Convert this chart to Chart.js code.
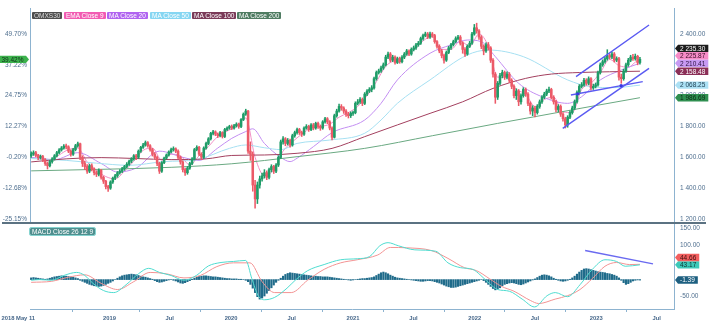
<!DOCTYPE html>
<html><head><meta charset="utf-8">
<script src="https://cdn.jsdelivr.net/npm/chart.js@4.4.0/dist/chart.umd.min.js"></script>
<style>
html,body{margin:0;padding:0;background:#fff;}
#wrap{position:relative;width:715px;height:330px;overflow:hidden;font-family:"Liberation Sans",Arial,sans-serif;}
#main{position:absolute;left:0;top:0;}
#macd{position:absolute;left:0;top:222px;}
.lg{position:absolute;top:11.5px;height:7px;line-height:7px;font-size:6.5px;padding:0 2px;color:#fff;white-space:nowrap;border-radius:1px;}
</style></head><body>
<div id="wrap">
<canvas id="main" width="715" height="222"></canvas>
<canvas id="macd" width="715" height="108"></canvas>
<div class="lg" style="left:32px;background:#4e4e4e;color:#ddd">OMXS30</div>
<div class="lg" style="left:64px;background:#f25bb2">EMA Close 9</div>
<div class="lg" style="left:107px;background:#b064f0">MA Close 20</div>
<div class="lg" style="left:150px;background:#86d6f2">MA Close 50</div>
<div class="lg" style="left:192px;background:#7a3a58">MA Close 100</div>
<div class="lg" style="left:237px;background:#4f7c62">MA Close 200</div>
<div class="lg" style="left:30px;top:227.5px;background:#4f8f8f;outline:1px solid #86d4d0">MACD Close 26 12 9</div>
</div>
<script>
// ---------- DATA (weekly, index 0 = 2018 May 11) ----------
const opens = [
1610,1622,1630,1612,1598,1605,1585,1560,1545,1572,
1590,1610,1630,1648,1660,1672,1668,1640,1620,1650,
1675,1688,1600,1560,1540,1510,1545,1525,1500,1490,
1515,1470,1445,1410,1400,1440,1465,1480,1500,1510,
1525,1540,1555,1575,1590,1610,1600,1640,1665,1680,
1695,1675,1650,1620,1600,1560,1510,1565,1595,1615,
1635,1650,1655,1640,1600,1570,1520,1500,1530,1560,
1590,1650,1665,1620,1600,1660,1690,1720,1755,1765,
1750,1740,1760,1735,1780,1790,1800,1790,1805,1815,
1800,1845,1880,1900,1640,1620,1420,1330,1420,1460,
1480,1500,1470,1520,1540,1510,1550,1600,1700,1720,
1690,1710,1680,1740,1760,1780,1760,1750,1790,1800,
1780,1810,1790,1820,1800,1790,1830,1850,1830,1790,
1730,1870,1900,1930,1920,1900,1880,1870,1885,1890,
1950,1960,1975,1950,2010,2030,2040,2050,2110,2150,
2160,2180,2200,2250,2270,2230,2250,2215,2240,2220,
2250,2270,2290,2270,2300,2310,2330,2340,2370,2390,
2400,2380,2400,2390,2350,2320,2290,2260,2230,2280,
2310,2330,2350,2370,2380,2340,2300,2270,2320,2340,
2400,2440,2420,2380,2320,2290,2330,2310,2230,2140,
1990,2080,2130,2150,2120,2140,2100,2060,2000,2030,
1960,2000,2040,2010,1950,1900,1920,1890,1930,1960,
1990,2010,2030,2040,1990,1960,1910,1930,1880,1850,
1810,1860,1890,1920,1960,2020,2060,2070,2100,2080,
2110,2050,2060,2070,2150,2200,2220,2240,2260,2250,
2270,2230,2240,2120,2110,2160,2200,2230,2250,2240,
2255,2215];
const highs = [
1635,1642,1638,1620,1615,1612,1592,1570,1580,1598,
1618,1638,1656,1670,1682,1685,1675,1648,1658,1684,
1698,1692,1610,1575,1552,1556,1558,1532,1512,1525,
1522,1478,1450,1418,1448,1472,1490,1508,1520,1535,
1548,1565,1582,1598,1618,1620,1648,1672,1690,1706,
1702,1682,1658,1630,1608,1568,1572,1602,1622,1642,
1660,1668,1662,1648,1608,1578,1530,1540,1568,1598,
1658,1675,1672,1630,1668,1698,1728,1762,1775,1772,
1758,1768,1766,1788,1798,1808,1810,1814,1824,1822,
1852,1888,1912,1905,1700,1635,1450,1440,1478,1498,
1520,1512,1530,1552,1548,1560,1610,1712,1735,1728,
1722,1718,1750,1770,1790,1788,1770,1798,1812,1808,
1818,1820,1828,1828,1810,1838,1860,1858,1838,1798,
1880,1912,1945,1942,1928,1910,1892,1895,1900,1960,
1975,1988,1985,2020,2040,2052,2065,2120,2160,2172,
2192,2212,2262,2282,2280,2262,2258,2250,2250,2260,
2280,2300,2298,2310,2322,2340,2352,2380,2400,2412,
2410,2412,2410,2398,2358,2330,2300,2270,2290,2320,
2340,2360,2382,2392,2390,2350,2312,2330,2352,2410,
2462,2470,2428,2390,2330,2342,2345,2318,2240,2150,
2092,2145,2165,2160,2155,2150,2110,2070,2045,2040,
2012,2052,2050,2020,1960,1935,1930,1942,1972,2000,
2022,2042,2055,2048,2000,1970,1942,1940,1890,1860,
1870,1902,1932,1972,2032,2072,2085,2112,2110,2122,
2118,2075,2082,2160,2212,2232,2252,2298,2272,2282,
2280,2252,2248,2140,2172,2212,2242,2262,2268,2270,
2262,2248];
const lows = [
1600,1612,1602,1585,1588,1572,1548,1524,1538,1562,
1582,1602,1622,1640,1652,1655,1630,1608,1612,1642,
1665,1585,1540,1520,1495,1500,1512,1485,1475,1480,
1458,1430,1395,1378,1392,1430,1455,1470,1490,1500,
1515,1532,1548,1565,1582,1585,1592,1632,1658,1672,
1665,1640,1608,1588,1545,1495,1502,1558,1588,1608,
1628,1640,1630,1590,1555,1505,1482,1490,1522,1552,
1582,1642,1610,1585,1592,1652,1682,1712,1745,1740,
1728,1732,1725,1728,1772,1782,1780,1782,1796,1788,
1792,1838,1872,1625,1580,1380,1270,1300,1400,1445,
1465,1455,1460,1505,1495,1500,1540,1592,1685,1675,
1680,1665,1672,1730,1750,1748,1735,1742,1782,1768,
1772,1778,1782,1788,1775,1782,1822,1818,1778,1712,
1725,1860,1892,1905,1885,1865,1855,1858,1872,1882,
1940,1950,1935,1942,2000,2020,2025,2042,2100,2140,
2150,2170,2192,2240,2218,2220,2205,2208,2210,2212,
2240,2262,2260,2262,2290,2300,2320,2332,2360,2382,
2370,2372,2378,2340,2308,2278,2245,2210,2222,2272,
2300,2322,2342,2362,2328,2275,2255,2262,2312,2332,
2392,2405,2365,2305,2265,2280,2295,2215,2120,1950,
1975,2070,2115,2105,2108,2085,2045,1985,1975,1935,
1945,1990,1995,1935,1880,1870,1862,1880,1918,1950,
1980,2000,2020,1978,1945,1895,1895,1865,1835,1790,
1795,1850,1880,1910,1952,2010,2050,2062,2068,2070,
2035,2040,2050,2062,2140,2190,2210,2230,2238,2240,
2218,2220,2100,2080,2100,2150,2190,2220,2228,2230,
2200,2205];
const closes = [
1622,1630,1612,1598,1605,1585,1560,1545,1572,1590,
1610,1630,1648,1660,1672,1668,1640,1620,1650,1675,
1688,1600,1560,1540,1510,1545,1525,1500,1490,1515,
1470,1445,1410,1400,1440,1465,1480,1500,1510,1525,
1540,1555,1575,1590,1610,1600,1640,1665,1680,1695,
1675,1650,1620,1600,1560,1510,1565,1595,1615,1635,
1650,1655,1640,1600,1570,1520,1500,1530,1560,1590,
1650,1665,1620,1600,1660,1690,1720,1755,1765,1750,
1740,1760,1735,1780,1790,1800,1790,1805,1815,1800,
1845,1880,1900,1640,1620,1420,1330,1420,1460,1480,
1500,1470,1520,1540,1510,1550,1600,1700,1720,1690,
1710,1680,1740,1760,1780,1760,1750,1790,1800,1780,
1810,1790,1820,1800,1790,1830,1850,1830,1790,1730,
1870,1900,1930,1920,1900,1880,1870,1885,1890,1950,
1960,1975,1950,2010,2030,2040,2050,2110,2150,2160,
2180,2200,2250,2270,2230,2250,2215,2240,2220,2250,
2270,2290,2270,2300,2310,2330,2340,2370,2390,2400,
2380,2400,2390,2350,2320,2290,2260,2230,2280,2310,
2330,2350,2370,2380,2340,2300,2270,2320,2340,2400,
2440,2420,2380,2320,2290,2330,2310,2230,2140,1990,
2080,2130,2150,2120,2140,2100,2060,2000,2030,1960,
2000,2040,2010,1950,1900,1920,1890,1930,1960,1990,
2010,2030,2040,1990,1960,1910,1930,1880,1850,1810,
1860,1890,1920,1960,2020,2060,2070,2100,2080,2110,
2050,2060,2070,2150,2200,2220,2240,2260,2250,2270,
2230,2240,2120,2110,2160,2200,2230,2250,2240,2255,
2215,2235.30];

// moving averages: [week index, value]
const ema9 = [[0,1625],[4,1610],[8,1575],[12,1615],[16,1650],[20,1660],[24,1570],[28,1515],[32,1475],[36,1460],[40,1510],[44,1575],[48,1645],[52,1660],[56,1580],[60,1620],[64,1610],[68,1550],[72,1610],[76,1670],[80,1735],[84,1770],[88,1800],[92,1855],[96,1600],[100,1480],[104,1520],[108,1640],[112,1700],[116,1750],[120,1790],[124,1800],[128,1815],[132,1860],[136,1890],[140,1930],[144,2000],[148,2090],[152,2190],[156,2230],[160,2250],[164,2295],[168,2355],[172,2385],[176,2300],[180,2300],[184,2355],[188,2320],[192,2400],[196,2320],[200,2120],[204,2120],[208,2040],[212,2010],[216,1930],[220,1975],[224,1990],[228,1895],[232,1890],[236,2040],[240,2080],[244,2150],[248,2235],[252,2195],[256,2185],[260,2225],[261,2225.87]];
const ma20 = [[0,1600],[10,1585],[20,1630],[30,1560],[37,1505],[45,1530],[55,1640],[65,1600],[72,1580],[80,1660],[86,1723],[92,1767],[95,1785],[100,1690],[107,1600],[111,1572],[114,1594],[121,1669],[129,1760],[143,1842],[150,1950],[157,2102],[171,2275],[180,2329],[187,2361],[193,2350],[199,2253],[209,2080],[219,1993],[230,1950],[236,1993],[244,2102],[253,2166],[261,2210.41]];
const ma50 = [[0,1592],[15,1580],[28,1562],[42,1548],[57,1572],[71,1585],[85,1658],[92,1680],[100,1662],[107,1650],[114,1690],[128,1712],[143,1756],[150,1842],[157,1950],[171,2102],[187,2264],[196,2296],[211,2253],[230,2102],[240,2058],[250,2052],[261,2068.25]];
const ma100 = [[0,1570],[15,1590],[30,1598],[45,1592],[60,1585],[75,1590],[86,1612],[100,1615],[114,1626],[129,1658],[143,1734],[157,1810],[171,1885],[185,1960],[198,2047],[212,2112],[223,2140],[235,2150],[248,2155],[261,2158.48]];
const ma200 = [[0,1512],[30,1522],[60,1535],[86,1558],[114,1604],[143,1658],[172,1740],[200,1820],[219,1872],[240,1930],[261,1986.69]];

// drawn trend lines
const trendUpper = [[233.6,2123],[264.9,2458]];
const trendLower = [[227.9,1788],[264.9,2177]];
const trendMid = [[231.4,2004],[262.2,2091]];
const touchPts = [[234.3,2011],[252.9,2065]];

// MACD panel
const macdLine = [[0,-2],[3.5,0],[8.8,-2],[14,12],[19.5,21],[23,12],[26.5,-11],[31,-32],[35.4,-38],[40.7,-15],[46,17],[50.4,33],[55,21],[60,12],[65.5,-2],[70.8,12],[76,40],[81.4,50],[86.7,53],[92,56],[94.6,3],[97.3,-47],[100,-59],[104.4,-52],[109.7,-25],[113.2,-2],[118.5,26],[125.6,44],[132.7,58],[139.8,61],[145,67],[149.5,99],[153,108],[157.4,99],[164.5,87],[173.4,83],[178.7,49],[184,35],[189.3,30],[192.8,12],[196.4,-11],[200,-29],[205,-34],[210.5,-57],[215.8,-80],[221.2,-47],[224.7,-38],[230,-50],[235.3,-15],[240.6,30],[246,58],[251,53],[254.7,39],[261,43.17]];
const signalLine = [[0,-8],[8.8,-5],[16,7],[23,14],[30,-11],[37,-29],[44,-6],[51,21],[58,17],[65.5,5],[72.5,12],[79.6,38],[86.7,49],[93.8,49],[99,-6],[104.4,-38],[111.5,-38],[118.5,-2],[125.6,30],[132.7,49],[139.8,58],[148.6,72],[154,94],[161,93],[171.6,85],[178.7,62],[185.7,35],[191,26],[196.4,3],[201.7,-20],[207,-34],[214,-61],[217.6,-70],[224.7,-57],[230,-47],[235.3,-29],[240.6,3],[246,39],[251,50],[256.5,44],[261,44.66]];
const histogram = [
5,6,5,4,3,2,1,
2,4,6,8,9,10,11,10,10,9,8,7,5,3,
-2,-5,-8,-11,-14,-16,-18,-19,-20,-19,-17,-14,-11,-8,
-4,0,4,8,11,13,14,15,16,15,14,12,10,8,7,5,3,1,
-3,-6,-8,-7,-5,
-3,-1,0,-2,-4,-7,-10,-11,-9,-6,-3,
1,4,7,9,10,11,11,10,9,8,8,7,6,5,4,
3,3,2,2,2,1,1,0,-2,-6,
-14,-25,-38,-50,-57,-54,-48,-40,-32,-24,
-16,-8,-2,4,10,
15,18,20,19,18,17,16,15,14,13,12,11,10,10,9,9,8,8,
8,7,6,5,4,3,2,1,0,-1,-2,-1,0,1,2,3,3,4,5,6,
8,12,16,20,22,20,17,13,10,7,5,4,3,2,
1,0,-1,-2,-3,-4,-5,-5,-4,-3,-3,-4,-6,-8,-10,
-13,-16,-19,-21,-23,-23,-22,-20,-18,-16,-14,-12,-10,-8,-6,-4,-2,0,
-3,-8,-14,-20,-26,-30,-28,-24,
-18,-14,-12,-10,-9,-10,-12,-14,-15,-13,-10,-7,
-4,-1,2,6,10,13,14,13,11,8,4,
1,-2,-4,-5,-4,-2,1,5,
10,16,22,27,31,32,31,29,27,25,23,22,21,20,18,17,
15,13,10,5,-2,-9,-14,-12,-8,-4,-2,-1,-1.39];
const macdTrend = [[237.5,85],[266.6,46]];

// axes
const priceTicks = [1200,1400,1600,1800,2000,2200,2400];
const pctLabels = ['-25.15%','-12.68%','-0.20%','12.27%','24.75%','37.22%','49.70%'];
const pctBase = 1603.3;
const macdTicks = [-50,100,150];
const xTickPos = [2.1,33.57,59.43,85.71,111.71,138,163.86,190.14,216,242.29,268.14];
const xTickLabels = ['2018 May 11','2019','Jul','2020','Jul','2021','Jul','2022','Jul','2023','Jul'];

// ---------- STYLE ----------
const FONT = '"Liberation Sans", Arial, sans-serif';
const AX = '#8db3d0', TXT = '#4f6f8f';
const UP = '#1f9c68', DN = '#ec5a68';
const XMIN = -0.5, XMAX = 275.6;
const TICKFONT = {size:6.5,family:FONT,lineHeight:0.01};

function fmt(v){const s=Math.abs(v).toFixed(2);const [a,b]=s.split('.');return (v<0?'-':'')+a.replace(/\B(?=(\d{3})+(?!\d))/g,' ')+'.'+b;}
const pts = arr => arr.map(p=>({x:p[0],y:p[1]}));
const last = arr => arr[arr.length-1][1];
function lineDs(arr,color,w,order,axis){return {type:'line',data:pts(arr),borderColor:color,borderWidth:w,pointRadius:0,tension:0.4,cubicInterpolationMode:'monotone',order:order,yAxisID:axis};}
function tag(ctx,x,y,text,bg,fg,left){
  ctx.font='6.5px '+FONT;
  const w=ctx.measureText(text).width+5, h=7.4;
  ctx.fillStyle=bg; ctx.beginPath();
  if(!left){ctx.moveTo(x,y);ctx.lineTo(x+3,y-h/2);ctx.lineTo(x+3+w,y-h/2);ctx.lineTo(x+3+w,y+h/2);ctx.lineTo(x+3,y+h/2);}
  else{ctx.moveTo(x,y);ctx.lineTo(x-3,y-h/2);ctx.lineTo(x-3-w,y-h/2);ctx.lineTo(x-3-w,y+h/2);ctx.lineTo(x-3,y+h/2);}
  ctx.closePath(); ctx.fill();
  ctx.fillStyle=fg; ctx.textBaseline='middle';
  ctx.textAlign='left';
  ctx.fillText(text, left? x-3-w+2.5 : x+5, y+0.5);
}
function stackTags(list,scale){
  list.forEach(t=>t.py=scale.getPixelForValue(t.v));
  list.sort((a,b)=>b.py-a.py);
  let prev=1e9; list.forEach(t=>{t.py=Math.min(t.py,prev-7.4);prev=t.py;});
  return list;
}
function yAxis(pos,min,max,ticks,cb,off,width){
  return {position:pos,min:min,max:max,
    afterBuildTicks:s=>{s.ticks=ticks.map(v=>({value:v}));},
    afterFit:s=>{s.width=width;},
    grid:{display:false,drawTicks:true,tickLength:off},
    border:{display:true,color:AX,width:1},
    ticks:{autoSkip:false,padding:0,color:TXT,font:TICKFONT,callback:cb}};
}

const candleColors = closes.map((c,i)=> c>=opens[i]?UP:DN);

const mainChart = new Chart(document.getElementById('main'),{
  type:'bar',
  data:{datasets:[
    lineDs(ma200,'#6aa982',1,6,'y'),
    lineDs(ma100,'#a3405f',1,6,'y'),
    lineDs(ma50,'#a6e0f2',1,6,'y'),
    lineDs(ma20,'#c38ef2',1,6,'y'),
    lineDs(ema9,'#f290c6',1,6,'y'),
    {type:'bar',data:closes.map((c,i)=>({x:i,y:[lows[i],highs[i]]})),backgroundColor:candleColors,barThickness:0.9,grouped:false,order:3,yAxisID:'y'},
    {type:'bar',data:closes.map((c,i)=>({x:i,y:[opens[i],c]})),backgroundColor:candleColors,barThickness:1.9,grouped:false,minBarLength:1,order:2,yAxisID:'y'},
    lineDs(trendUpper,'#5a5af2',1.4,1,'y'),
    lineDs(trendLower,'#5a5af2',1.4,1,'y'),
    lineDs(trendMid,'#5a5af2',1.4,1,'y'),
    {type:'line',data:pts(touchPts),showLine:false,pointRadius:1.6,pointBackgroundColor:'#3a3ae0',pointBorderWidth:0,order:0,yAxisID:'y'}
  ]},
  options:{
    responsive:false,animation:false,devicePixelRatio:1,events:[],
    layout:{autoPadding:false,padding:{top:8,left:0,right:0,bottom:0}},
    plugins:{legend:{display:false},tooltip:{enabled:false}},
    scales:{
      x:{type:'linear',display:false,min:XMIN,max:XMAX,offset:false},
      y:yAxis('right',1180.5,2568.6,priceTicks,v=>fmt(v),6,41),
      yL:yAxis('left',1180.5,2568.6,priceTicks,v=>pctLabels[priceTicks.indexOf(v)],3,30)
    }
  },
  plugins:[{id:'tags',afterDraw(chart){
    const ctx=chart.ctx, s=chart.scales.y, xr=chart.chartArea.right+1;
    const list=stackTags([
      {v:closes[closes.length-1],bg:'#1c1c1c',fg:'#fff'},
      {v:last(ema9),bg:'#f78cc8',fg:'#3a0f28'},
      {v:last(ma20),bg:'#c79af3',fg:'#2a1040'},
      {v:last(ma100),bg:'#8b2f57',fg:'#fff'},
      {v:last(ma50),bg:'#abe0f4',fg:'#1d3d50'},
      {v:last(ma200),bg:'#2f8f50',fg:'#0c2814'}
    ],s);
    ctx.save();
    list.forEach(t=>tag(ctx,xr,t.py,fmt(t.v),t.bg,t.fg,false));
    const lc=closes[closes.length-1];
    tag(ctx,chart.chartArea.left-1,s.getPixelForValue(lc),((lc/pctBase-1)*100).toFixed(2)+'%','#3cb24c','#10301a',true);
    ctx.restore();
  }}]
});

const macdChart = new Chart(document.getElementById('macd'),{
  type:'bar',
  data:{datasets:[
    {type:'bar',data:histogram.map((v,i)=>({x:i,y:v})),backgroundColor:'#1f6b8a',barThickness:1.5,grouped:false,order:3,yAxisID:'y'},
    lineDs(signalLine,'#f39393',1,2,'y'),
    lineDs(macdLine,'#4fdcd0',1,1,'y'),
    lineDs(macdTrend,'#6a6af0',1.4,0,'y')
  ]},
  options:{
    responsive:false,animation:false,devicePixelRatio:1,events:[],
    layout:{autoPadding:false,padding:{top:2,left:30,right:0,bottom:0}},
    plugins:{legend:{display:false},tooltip:{enabled:false}},
    scales:{
      x:{type:'linear',position:'bottom',min:XMIN,max:XMAX,offset:false,
         afterBuildTicks:s=>{s.ticks=xTickPos.map(v=>({value:v}));},
         afterFit:s=>{s.height=21;},
         grid:{display:true,drawOnChartArea:false,drawTicks:true,tickLength:3,color:AX},
         border:{display:true,color:AX,width:1},
         ticks:{autoSkip:false,maxRotation:0,color:'rgba(0,0,0,0)',font:{size:6.5,family:FONT},callback:()=>''}},
      y:yAxis('right',-86,162.6,macdTicks,v=>fmt(v),6,41)
    }
  },
  plugins:[{id:'extras',afterDraw(chart){
    const ctx=chart.ctx, sx=chart.scales.x, sy=chart.scales.y, xr=chart.chartArea.right+1;
    ctx.save();
    ctx.fillStyle='#5b7282'; ctx.fillRect(2,0,704,2);
    ctx.font='bold 5.8px '+FONT; ctx.fillStyle='#46678a'; ctx.textBaseline='middle';
    xTickPos.forEach((v,k)=>{
      ctx.textAlign = k===0?'right':'center';
      ctx.fillText(xTickLabels[k], sx.getPixelForValue(v)-(k===0?1:0), 96);
    });
    const list=stackTags([
      {v:last(signalLine),bg:'#f25f5f',fg:'#3a0c0c'},
      {v:last(macdLine),bg:'#3cc9b9',fg:'#0c3330'},
      {v:histogram[histogram.length-1],bg:'#1d5f80',fg:'#fff'}
    ],sy);
    list.forEach(t=>tag(ctx,xr,t.py,fmt(t.v),t.bg,t.fg,false));
    ctx.restore();
  }}]
});
</script>
</body></html>
